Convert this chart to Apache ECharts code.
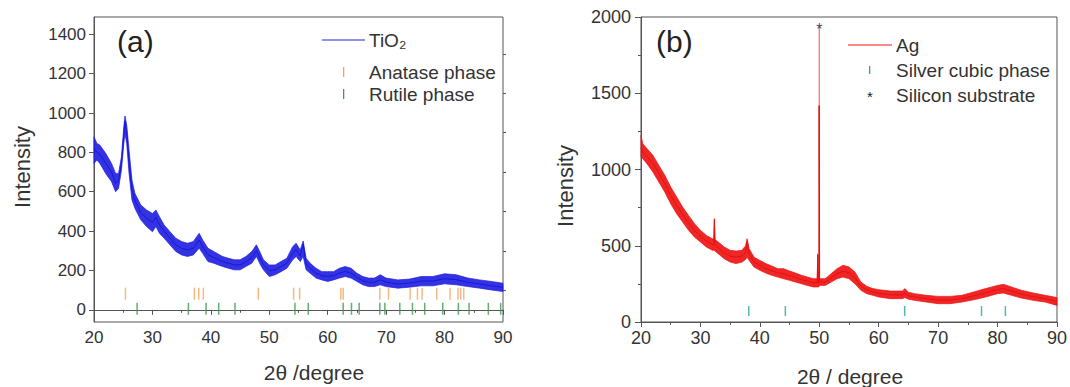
<!DOCTYPE html>
<html><head><meta charset="utf-8">
<script src="https://cdn.jsdelivr.net/npm/echarts@6/dist/echarts.min.js"></script>
<style>html,body{margin:0;padding:0;background:#fff}#c{width:1070px;height:387px}</style>
</head><body><div id="c"></div>
<script>
// ---------- tick labels ----------
const xTicks = [20, 30, 40, 50, 60, 70, 80, 90];
const yTicksA = [0, 200, 400, 600, 800, 1000, 1200, 1400];
const yMinorA = [100, 300, 500, 700, 900, 1100, 1300];
const yTicksB = [0, 500, 1000, 1500, 2000];

// ---------- (a) TiO2 pattern: 2theta, upper / lower edge of the noisy trace, centre ----------
const tioX     = [20, 20.5, 21, 22, 23, 23.7, 24.2, 24.7, 25.1, 25.3, 25.6, 26, 26.5, 27, 28, 29, 30, 30.6, 31.2, 32, 33, 34, 35, 36, 37, 38, 38.6, 39.5, 40.5, 42, 43, 44, 45, 46, 47, 47.8, 48.5, 49, 50, 51, 52, 53, 54, 54.6, 55.3, 55.8, 56.3, 57, 58, 59, 60, 61, 62, 63, 64, 65, 66, 67, 68, 69, 70, 72, 74, 76, 78, 80, 82, 84, 86, 88, 90];
const tioUpper = [879, 845, 837, 795, 744, 693, 693, 778, 930, 985, 938, 811, 659, 592, 533, 507, 490, 507, 473, 431, 397, 364, 347, 338, 347, 389, 355, 313, 296, 271, 262, 254, 254, 271, 296, 330, 287, 254, 228, 228, 245, 262, 321, 338, 304, 350, 262, 237, 211, 194, 194, 194, 211, 220, 211, 186, 169, 161, 161, 178, 161, 152, 156, 169, 169, 183, 178, 161, 152, 144, 135];
const tioLower = [744, 761, 744, 693, 651, 600, 617, 710, 845, 896, 845, 693, 558, 516, 457, 423, 397, 423, 389, 364, 330, 296, 279, 271, 279, 313, 287, 245, 237, 220, 211, 203, 203, 220, 237, 271, 228, 203, 169, 178, 194, 211, 254, 271, 245, 271, 203, 186, 161, 152, 144, 152, 161, 169, 161, 144, 127, 118, 118, 127, 118, 110, 115, 122, 122, 132, 127, 118, 110, 101, 93];
const tioMid   = [820, 800, 790, 745, 700, 645, 655, 745, 890, 960, 895, 750, 610, 555, 495, 465, 445, 470, 430, 400, 365, 330, 312, 305, 312, 355, 320, 280, 265, 245, 237, 228, 228, 245, 265, 300, 258, 228, 200, 203, 220, 237, 288, 305, 275, 335, 232, 212, 186, 173, 170, 173, 186, 195, 186, 165, 148, 140, 140, 153, 140, 131, 136, 146, 146, 158, 153, 140, 131, 122, 114];

// reference line positions (2theta)
const anatase = [25.38, 37.18, 37.92, 38.72, 48.12, 54.16, 55.19, 62.25, 62.65, 68.92, 70.4, 74.1, 75.36, 76.15, 78.66, 80.94, 82.3, 82.76, 83.28];
const rutile  = [27.38, 36.15, 39.18, 41.34, 44.13, 54.39, 56.67, 62.65, 64.07, 65.38, 68.92, 69.78, 72.34, 74.5, 76.6, 79.69, 82.36, 84.19, 87.49, 89.6];

// ---------- (b) Ag pattern ----------
const agX     = [20, 20.3, 21, 22, 23, 24, 25, 26, 27, 28, 29, 30, 31, 32, 32.25, 32.35, 32.45, 33, 34, 35, 36, 37, 37.6, 37.85, 38.2, 39, 40, 41, 42, 43, 44, 45, 46, 47, 48, 49, 49.65, 49.75, 49.85, 49.95, 49.98, 50.0, 50.02, 50.05, 50.15, 51, 52, 53, 54, 55, 56, 57, 58, 59, 60, 62, 64, 64.4, 65, 66, 68, 70, 72, 74, 76, 78, 80, 81, 82, 84, 86, 88, 90];
const agUpper = [1224, 1169, 1137, 1093, 1027, 962, 885, 820, 754, 699, 645, 601, 568, 546, 546, 678, 540, 525, 492, 470, 465, 470, 500, 546, 481, 426, 404, 383, 367, 350, 350, 334, 321, 306, 295, 284, 284, 448, 284, 284, 1420, 1420, 1420, 284, 284, 284, 317, 350, 372, 361, 328, 262, 234, 219, 212, 203, 203, 219, 195, 186, 175, 168, 168, 175, 197, 219, 240, 247, 234, 208, 190, 175, 160];
const agLower = [1082, 1071, 1038, 984, 918, 852, 776, 710, 656, 601, 557, 525, 492, 470, 470, 470, 465, 448, 415, 393, 383, 393, 410, 426, 404, 361, 339, 321, 306, 295, 284, 273, 262, 251, 240, 230, 230, 230, 230, 230, 240, 240, 240, 240, 240, 240, 262, 284, 295, 284, 251, 208, 186, 175, 164, 153, 153, 160, 150, 142, 131, 120, 120, 131, 146, 164, 186, 190, 179, 157, 142, 131, 109];
const agMid   = [1140, 1115, 1085, 1040, 975, 908, 830, 765, 705, 650, 600, 563, 530, 508, 510, 670, 505, 487, 453, 432, 425, 432, 455, 530, 445, 393, 372, 350, 336, 322, 317, 303, 292, 278, 268, 257, 257, 440, 257, 260, 1420, 1420, 1420, 262, 262, 262, 290, 317, 333, 323, 290, 235, 210, 197, 188, 178, 178, 190, 172, 164, 153, 144, 144, 153, 172, 192, 213, 220, 207, 183, 166, 153, 135];
// faint top of the substrate reflection
const siTopX = [50.0, 50.0];
const siTopY = [1420, 1945];

const silverCubic = [38.13, 44.29, 64.37, 77.3, 81.32];
const siliconPeak = [[50.0, 1945]];

// ---------- styling ----------
const FONT = '"Liberation Sans", Arial, "DejaVu Sans", sans-serif';
const AXIS = '#555';
const TXT = '#333';
const BLUE = '#2222e2';
const RED = '#ee1414';
const ORANGE = '#f3a862';
const GREEN = '#3f9a4c';
const TEAL = '#2aa59a';

function band(xi, yi, xs, up, lo, color) {
  return {
    type: 'custom', xAxisIndex: xi, yAxisIndex: yi, silent: true, z: 2,
    data: [[xs[0], lo[0]]],
    renderItem: function (params, api) {
      const pts = [];
      for (let i = 0; i < xs.length; i++) pts.push(api.coord([xs[i], up[i]]));
      for (let i = xs.length - 1; i >= 0; i--) pts.push(api.coord([xs[i], lo[i]]));
      return { type: 'polygon', shape: { points: pts }, style: { fill: color, stroke: color, lineWidth: 0.8, opacity: 0.92 } };
    }
  };
}
function xAxisCfg(gi, fs) {
  return {
    type: 'value', gridIndex: gi, min: 20, max: 90, interval: 10,
    axisLine: { show: true, lineStyle: { color: AXIS, width: 1 } },
    axisTick: { show: true, inside: false, length: 5, lineStyle: { color: AXIS } },
    minorTick: { show: true, splitNumber: 2, length: 3, lineStyle: { color: AXIS } },
    axisLabel: { fontSize: fs, color: TXT, fontFamily: FONT, margin: 7, showMinLabel: true, showMaxLabel: true,
                 formatter: v => String(v) },
    splitLine: { show: false }
  };
}
const mk = (xs, ys) => xs.map((x, i) => [x, ys[i]]);
const at = (xs, y) => xs.map(x => [x, y]);

const option = {
  animation: false,
  backgroundColor: '#fff',
  grid: [
    { left: 94, top: 17, width: 409, height: 305, show: true, borderColor: AXIS, borderWidth: 1, backgroundColor: 'transparent' },
    { left: 641, top: 17, width: 417, height: 305, show: true, borderColor: AXIS, borderWidth: 1, backgroundColor: 'transparent' }
  ],
  xAxis: [xAxisCfg(0, 17), xAxisCfg(1, 18)],
  yAxis: [
    { type: 'value', gridIndex: 0, min: -62, max: 1488,
      axisLine: { show: true, lineStyle: { color: AXIS } },
      axisTick: { show: true, length: 5, customValues: yTicksA, lineStyle: { color: AXIS } },
      axisLabel: { customValues: yTicksA, fontSize: 17, color: TXT, fontFamily: FONT, margin: 8, formatter: v => String(v) },
      splitLine: { show: false } },
    { type: 'value', gridIndex: 0, min: -62, max: 1488,
      axisLine: { show: false },
      axisTick: { show: true, length: 3, customValues: yMinorA, lineStyle: { color: AXIS } },
      axisLabel: { show: false }, splitLine: { show: false } },
    { type: 'value', gridIndex: 1, min: 0, max: 2000, interval: 500,
      axisLine: { show: true, lineStyle: { color: AXIS } },
      axisTick: { show: true, length: 6, lineStyle: { color: AXIS } },
      minorTick: { show: true, splitNumber: 2, length: 3, lineStyle: { color: AXIS } },
      axisLabel: { customValues: yTicksB, fontSize: 18, color: TXT, fontFamily: FONT, margin: 10, formatter: v => String(v) },
      splitLine: { show: false } }
  ],
  series: [
    band(0, 0, tioX, tioUpper, tioLower, BLUE),
    { name: 'TiO₂', type: 'line', xAxisIndex: 0, yAxisIndex: 0, data: mk(tioX, tioMid), symbol: 'none', z: 3,
      lineStyle: { color: '#1818d8', width: 1 } },
    { name: 'Anatase phase', type: 'scatter', xAxisIndex: 0, yAxisIndex: 0, data: at(anatase, 82),
      symbol: 'rect', symbolSize: [1.5, 12], itemStyle: { color: ORANGE }, z: 4 },
    { name: 'Rutile phase', type: 'scatter', xAxisIndex: 0, yAxisIndex: 0, data: at(rutile, 5),
      symbol: 'rect', symbolSize: [1.5, 12], itemStyle: { color: GREEN }, z: 4 },

    band(1, 2, agX, agUpper, agLower, RED),
    { name: 'Ag', type: 'line', xAxisIndex: 1, yAxisIndex: 2, data: mk(agX, agMid), symbol: 'none', z: 3,
      lineStyle: { color: '#e81010', width: 1 } },
    { name: 'Ag top', type: 'line', xAxisIndex: 1, yAxisIndex: 2, data: mk(siTopX, siTopY), symbol: 'none', z: 3,
      lineStyle: { color: '#f06a78', width: 1.2 } },
    { name: 'Silver cubic phase', type: 'scatter', xAxisIndex: 1, yAxisIndex: 2, data: at(silverCubic, 72),
      symbol: 'rect', symbolSize: [1.5, 10], itemStyle: { color: TEAL }, z: 4 },
    { name: 'Silicon substrate', type: 'scatter', xAxisIndex: 1, yAxisIndex: 2, data: siliconPeak,
      symbolSize: 0, z: 5,
      label: { show: true, formatter: '*', position: 'inside', fontSize: 16, color: '#222', fontFamily: FONT, offset: [0, 4] } }
  ],
  graphic: [
    // panel labels
    { type: 'text', left: 117, top: 26, style: { text: '(a)', fontSize: 30, fill: '#222', fontFamily: FONT } },
    { type: 'text', left: 656, top: 26, style: { text: '(b)', fontSize: 30, fill: '#222', fontFamily: FONT } },
    // axis titles
    { type: 'text', x: 314, y: 372, style: { text: '2θ /degree', fontSize: 21, fill: TXT, fontFamily: FONT, align: 'center', verticalAlign: 'middle' } },
    { type: 'text', x: 850, y: 376, style: { text: '2θ / degree', fontSize: 21, fill: TXT, fontFamily: FONT, align: 'center', verticalAlign: 'middle' } },
    { type: 'text', x: 22, y: 167, rotation: Math.PI / 2, style: { text: 'Intensity', fontSize: 22, fill: TXT, fontFamily: FONT, align: 'center', verticalAlign: 'middle' } },
    { type: 'text', x: 565, y: 186, rotation: Math.PI / 2, style: { text: 'Intensity', fontSize: 22, fill: TXT, fontFamily: FONT, align: 'center', verticalAlign: 'middle' } },
    // legend (a)
    { type: 'line', shape: { x1: 322, y1: 40, x2: 365, y2: 40 }, style: { stroke: BLUE, lineWidth: 1.2 } },
    { type: 'text', x: 369, y: 40, style: { text: 'TiO₂', fontSize: 19, fill: TXT, fontFamily: FONT, verticalAlign: 'middle' } },
    { type: 'rect', shape: { x: 343, y: 67, width: 1.3, height: 10 }, style: { fill: ORANGE } },
    { type: 'text', x: 369, y: 72, style: { text: 'Anatase phase', fontSize: 19, fill: TXT, fontFamily: FONT, verticalAlign: 'middle' } },
    { type: 'rect', shape: { x: 343, y: 89, width: 1.3, height: 10 }, style: { fill: GREEN } },
    { type: 'text', x: 369, y: 94, style: { text: 'Rutile phase', fontSize: 19, fill: TXT, fontFamily: FONT, verticalAlign: 'middle' } },
    // legend (b)
    { type: 'line', shape: { x1: 848, y1: 45, x2: 892, y2: 45 }, style: { stroke: RED, lineWidth: 1.2 } },
    { type: 'text', x: 896, y: 45, style: { text: 'Ag', fontSize: 19, fill: TXT, fontFamily: FONT, verticalAlign: 'middle' } },
    { type: 'rect', shape: { x: 869, y: 66, width: 1.3, height: 8 }, style: { fill: TEAL } },
    { type: 'text', x: 896, y: 70, style: { text: 'Silver cubic phase', fontSize: 19, fill: TXT, fontFamily: FONT, verticalAlign: 'middle' } },
    { type: 'text', x: 870, y: 96, style: { text: '*', fontSize: 15, fill: '#222', fontFamily: FONT, align: 'center', verticalAlign: 'middle' } },
    { type: 'text', x: 896, y: 95, style: { text: 'Silicon substrate', fontSize: 19, fill: TXT, fontFamily: FONT, verticalAlign: 'middle' } }
  ]
};
const chart = echarts.init(document.getElementById('c'), null, { renderer: 'svg' });
chart.setOption(option);
</script>
</body></html>
